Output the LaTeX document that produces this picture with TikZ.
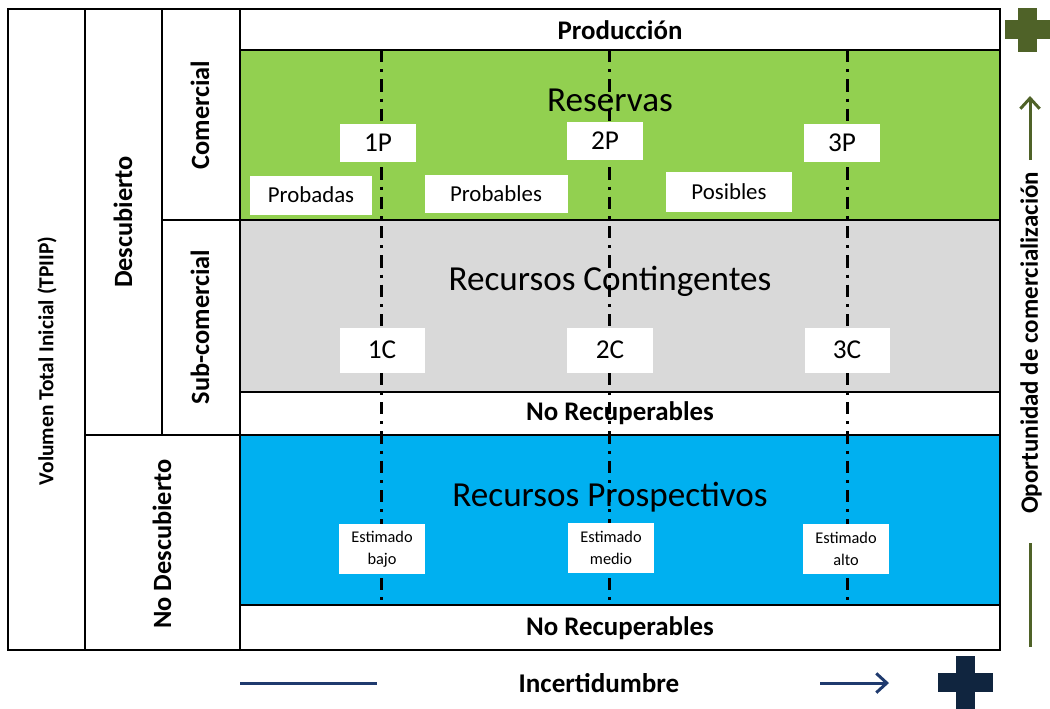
\documentclass[tikz,border=0pt]{standalone}
\usepackage{fontspec}
\setmainfont{Carlito}
\usepackage{tikz}
\usetikzlibrary{arrows.meta}
\usetikzlibrary{positioning}
\definecolor{resgreen}{HTML}{92D050}
\definecolor{congray}{HTML}{D9D9D9}
\definecolor{problue}{HTML}{00B0F0}
\definecolor{olivegreen}{HTML}{4F6228}
\definecolor{darknavy}{HTML}{10253F}
\definecolor{linenavy}{HTML}{1F3A6E}
\tikzset{>=latex}
\tikzstyle{band} = [draw=black, line width=1.6pt]
\tikzstyle{cat} = [rotate=90, font=\bfseries\fontsize{15}{17}\selectfont]
\tikzstyle{rowtitle} = [font=\bfseries\fontsize{15.3}{17}\selectfont]
\tikzstyle{bigtitle} = [font=\fontsize{20}{22}\selectfont]
\tikzstyle{level} = [rectangle, fill=white, inner sep=0pt, font=\fontsize{15.5}{17}\selectfont]
\tikzstyle{kind} = [rectangle, fill=white, inner sep=0pt, font=\fontsize{13}{15}\selectfont]
\tikzstyle{est} = [rectangle, fill=white, inner sep=0pt, align=center, font=\fontsize{9.3}{12.5}\selectfont]
\tikzstyle{divline} = [line width=1.7pt, dash pattern=on 7pt off 4pt on 1.7pt off 4pt]

\begin{document}
\begin{tikzpicture}[x=0.02cm, y=-0.02cm]
\useasboundingbox (0,0) rectangle (1050,708);
% bands
\draw [band, fill=white] (240,9) rectangle (1000,50);
\draw [band, fill=resgreen] (240,50) rectangle (1000,220);
\draw [band, fill=congray] (240,220) rectangle (1000,392);
\draw [band, fill=white] (240,392) rectangle (1000,435);
\draw [band, fill=problue] (240,435) rectangle (1000,605);
\draw [band, fill=white] (240,605) rectangle (1000,650);
% left columns
\draw [band] (8,9) rectangle (85,650);
\draw [band] (85,9) rectangle (162,435);
\draw [band] (85,435) rectangle (240,650);
\draw [band] (162,9) rectangle (240,220);
\draw [band] (162,220) rectangle (240,435);
\node [cat, font=\bfseries\fontsize{12.2}{14}\selectfont] (vol) at (47,361) {Volumen Total Inicial (TPIIP)};
\node [cat] (desc) at (123,222) {Descubierto};
\node [cat] (nodesc) at (162,544) {No Descubierto};
\node [cat] (com) at (200,115) {Comercial};
\node [cat] (subcom) at (200,327) {Sub-comercial};
% dash-dot dividers
\coordinate (lowtop) at (381,50);
\coordinate (lowbot) at (381,605);
\coordinate (midtop) at (609,50);
\coordinate (midbot) at (609,605);
\coordinate (hightop) at (847,50);
\coordinate (highbot) at (847,605);
\draw [divline] (lowtop) -- (lowbot);
\draw [divline] (midtop) -- (midbot);
\draw [divline] (hightop) -- (highbot);
% titles
\node [rowtitle] (prod) at (620,30) {Producción};
\node [bigtitle] (res) at (610,100) {Reservas};
\node [bigtitle] (cont) at (610,281) {Recursos Contingentes};
\node [rowtitle] (norec1) at (620,413) {No Recuperables};
\node [bigtitle] (pros) at (610,497) {Recursos Prospectivos};
\node [rowtitle] (norec2) at (620,628) {No Recuperables};
% reserves
\node [level, minimum width=76*0.02cm, minimum height=38*0.02cm] (p1) at (378,143) {1P};
\node [level, minimum width=76*0.02cm, minimum height=38*0.02cm] (p2) at (605,141) {2P};
\node [level, minimum width=76*0.02cm, minimum height=38*0.02cm] (p3) at (842,143) {3P};
\node [kind, minimum width=122*0.02cm, minimum height=39*0.02cm] (prob) at (311,195) {Probadas};
\node [kind, minimum width=143*0.02cm, minimum height=38*0.02cm] (probl) at (496,194) {Probables};
\node [kind, minimum width=126*0.02cm, minimum height=40*0.02cm] (pos) at (729,192) {Posibles};
% contingent
\node [level, minimum width=85*0.02cm, minimum height=45*0.02cm] (c1) at (382,350) {1C};
\node [level, minimum width=86*0.02cm, minimum height=45*0.02cm] (c2) at (610,350) {2C};
\node [level, minimum width=85*0.02cm, minimum height=45*0.02cm] (c3) at (847,350) {3C};
% prospective
\node [est, minimum width=86*0.02cm, minimum height=50*0.02cm] (lowest) at (382,549) {Estimado\\bajo};
\node [est, minimum width=86*0.02cm, minimum height=50*0.02cm] (midest) at (611,548) {Estimado\\medio};
\node [est, minimum width=86*0.02cm, minimum height=50*0.02cm] (highest) at (846,549) {Estimado\\alto};
% commerciality axis
\fill [olivegreen] (1018,8) rectangle (1037,52);
\fill [olivegreen] (1005,20) rectangle (1050,39);
\coordinate (upfrom) at (1030,160);
\coordinate (upto) at (1030,96);
\draw [-{Straight Barb[length=6pt, width=11pt]}, draw=olivegreen, line width=1.7pt] (upfrom) to (upto);
\node [cat, font=\bfseries\fontsize{14.2}{16}\selectfont] (opor) at (1031,343) {Oportunidad de comercialización};
\coordinate (uplow) at (1030,543);
\coordinate (uplowend) at (1030,647);
\draw [draw=olivegreen, line width=1.7pt] (uplow) to (uplowend);
% uncertainty axis
\coordinate (incfrom) at (240,683);
\coordinate (incmid) at (377,683);
\draw [draw=linenavy, line width=1.7pt] (incfrom) to (incmid);
\node [font=\bfseries\fontsize{15.4}{17}\selectfont] (inc) at (599,683) {Incertidumbre};
\coordinate (incgo) at (820,683);
\coordinate (incend) at (889,683);
\draw [-{Straight Barb[length=6pt, width=11pt]}, draw=linenavy, line width=1.7pt] (incgo) to (incend);
\fill [darknavy] (956,656) rectangle (975,712);
\fill [darknavy] (938,673) rectangle (993,692);
\end{tikzpicture}
\end{document}
